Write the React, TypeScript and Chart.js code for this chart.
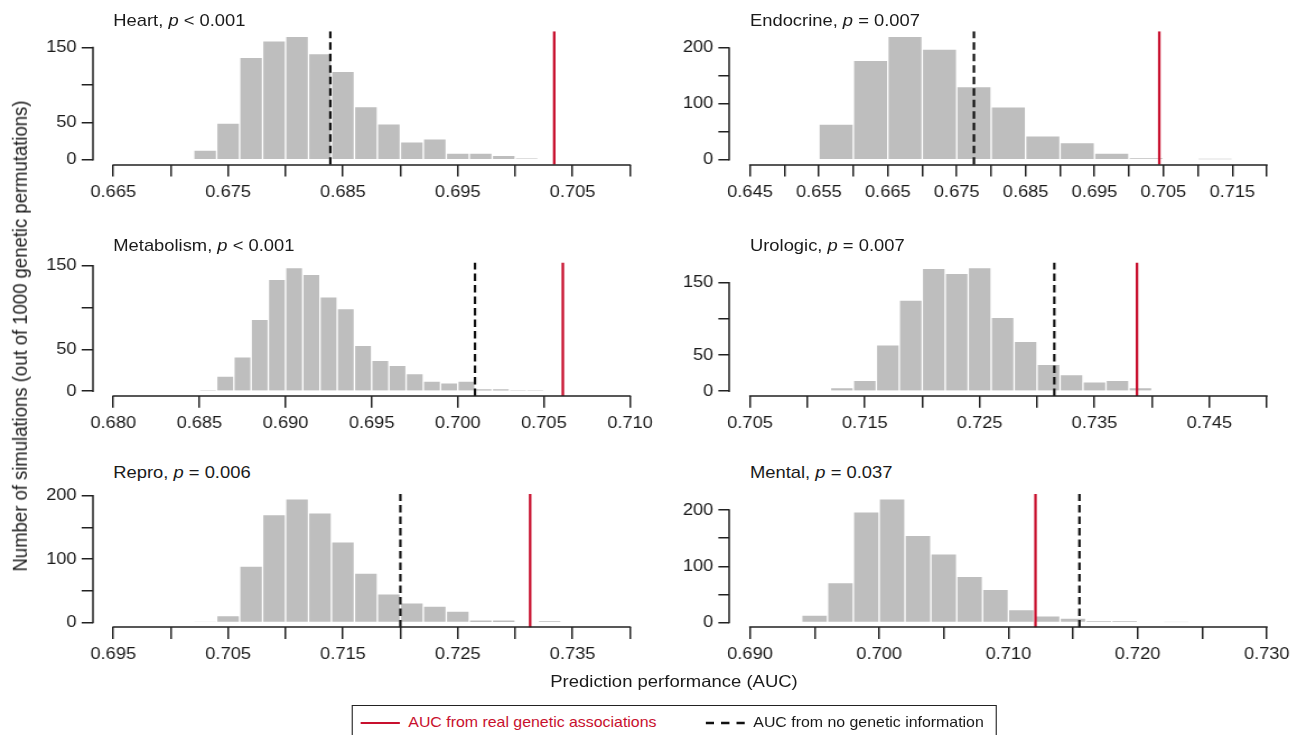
import React, { useEffect, useRef } from 'react';
import { Chart, registerables } from 'chart.js';

Chart.register(...registerables);

// ---------------- data ----------------
const panelNames = ['Heart', 'Endocrine', 'Metabolism', 'Urologic', 'Repro', 'Mental'];
const panelPText = ['< 0.001', '= 0.007', '< 0.001', '= 0.007', '= 0.006', '= 0.037'];

const heartBins = [0.672, 0.674, 0.676, 0.678, 0.680, 0.682, 0.684, 0.686, 0.688, 0.690, 0.692, 0.694, 0.696, 0.698, 0.700];
const heartCounts = [13, 49, 137, 159, 165, 142, 118, 71, 48, 24, 28, 9, 9, 6, 2];
const heartBinWidth = 0.002;
const heartReal = 0.7034;
const heartNull = 0.6839;
const heartXTicks = [0.665, 0.670, 0.675, 0.680, 0.685, 0.690, 0.695, 0.700, 0.705, 0.710];
const heartXLabels = ['0.665', '', '0.675', '', '0.685', '', '0.695', '', '0.705', ''];

const endoBins = [0.655, 0.660, 0.665, 0.670, 0.675, 0.680, 0.685, 0.690, 0.695, 0.700, 0.705, 0.710];
const endoCounts = [64, 178, 221, 198, 131, 95, 43, 31, 12, 3, 0, 2];
const endoBinWidth = 0.005;
const endoReal = 0.7044;
const endoNull = 0.6775;
const endoXTicks = [0.645, 0.650, 0.655, 0.660, 0.665, 0.670, 0.675, 0.680, 0.685, 0.690, 0.695, 0.700, 0.705, 0.710, 0.715, 0.720];
const endoXLabels = ['0.645', '', '0.655', '', '0.665', '', '0.675', '', '0.685', '', '0.695', '', '0.705', '', '0.715', ''];

const metaBins = [0.685, 0.686, 0.687, 0.688, 0.689, 0.690, 0.691, 0.692, 0.693, 0.694, 0.695, 0.696, 0.697, 0.698, 0.699, 0.700, 0.701, 0.702, 0.703, 0.704];
const metaCounts = [1, 18, 41, 86, 134, 148, 140, 113, 99, 55, 37, 31, 21, 12, 10, 12, 3, 3, 1, 1];
const metaBinWidth = 0.001;
const metaReal = 0.7061;
const metaNull = 0.7010;
const metaXTicks = [0.680, 0.685, 0.690, 0.695, 0.700, 0.705, 0.710];
const metaXLabels = ['0.680', '0.685', '0.690', '0.695', '0.700', '0.705', '0.710'];

const uroBins = [0.712, 0.714, 0.716, 0.718, 0.720, 0.722, 0.724, 0.726, 0.728, 0.730, 0.732, 0.734, 0.736, 0.738];
const uroCounts = [5, 15, 64, 126, 170, 163, 171, 102, 69, 37, 23, 13, 15, 5];
const uroBinWidth = 0.002;
const uroReal = 0.7387;
const uroNull = 0.7315;
const uroXTicks = [0.705, 0.710, 0.715, 0.720, 0.725, 0.730, 0.735, 0.740, 0.745, 0.750];
const uroXLabels = ['0.705', '', '0.715', '', '0.725', '', '0.735', '', '0.745', ''];

const reproBins = [0.702, 0.704, 0.706, 0.708, 0.710, 0.712, 0.714, 0.716, 0.718, 0.720, 0.722, 0.724, 0.726, 0.728, 0.730, 0.732];
const reproCounts = [1, 11, 89, 170, 195, 173, 127, 78, 45, 31, 26, 18, 4, 4, 0, 2];
const reproBinWidth = 0.002;
const reproReal = 0.7313;
const reproNull = 0.7200;
const reproXTicks = [0.695, 0.700, 0.705, 0.710, 0.715, 0.720, 0.725, 0.730, 0.735, 0.740];
const reproXLabels = ['0.695', '', '0.705', '', '0.715', '', '0.725', '', '0.735', ''];

const mentalBins = [0.694, 0.696, 0.698, 0.700, 0.702, 0.704, 0.706, 0.708, 0.710, 0.712, 0.714, 0.716, 0.718, 0.720, 0.722];
const mentalCounts = [13, 71, 197, 220, 155, 122, 82, 59, 23, 12, 8, 2, 2, 0, 1];
const mentalBinWidth = 0.002;
const mentalReal = 0.7121;
const mentalNull = 0.7155;
const mentalXTicks = [0.690, 0.695, 0.700, 0.705, 0.710, 0.715, 0.720, 0.725, 0.730];
const mentalXLabels = ['0.690', '', '0.700', '', '0.710', '', '0.720', '', '0.730'];

const yTicks150 = [0, 50, 100, 150];
const yLabels150 = ['0', '50', '', '150'];
const yTicks200 = [0, 50, 100, 150, 200];
const yLabels200 = ['0', '', '100', '', '200'];

const yAxisTitle = 'Number of simulations (out of 1000 genetic permutations)';
const xAxisTitle = 'Prediction performance (AUC)';
const legendReal = 'AUC from real genetic associations';
const legendNull = 'AUC from no genetic information';

// ---------------- styles / layout ----------------
const S = 1.12; // horizontal stretch of the reference figure
const FONT = '"Liberation Sans", Arial, Helvetica, sans-serif';
const RED = '#c8102e';
const TEXT = '#1a1a1a';
const AXIS = '#222222';
const BAR = '#bebebe';
const CANVAS_H = 200;
const TICK_FONT = 16.3;
const TITLE_FONT = 16.4;

const COLS = [
  { canvasLeft: 0, canvasWidth: 600, plotLeft: 92.63 / S, plotRight: 650.67 / S, titleLeft: 113.3 / S },
  { canvasLeft: 600, canvasWidth: 561, plotLeft: 729.33 / S, plotRight: 1287.4 / S, titleLeft: 750 / S },
];
const ROWS = [
  { plotTop: 31.3, plotBottom: 164.8, titleBaseline: 26 },
  { plotTop: 262.6, plotBottom: 396.1, titleBaseline: 251 },
  { plotTop: 493.9, plotBottom: 627.4, titleBaseline: 478 },
];

type Spec = {
  name: string; pText: string;
  bins: number[]; counts: number[]; binWidth: number;
  real: number; nul: number;
  xTicks: number[]; xLabels: string[];
  yTicks: number[]; yLabels: string[];
  col: number; row: number;
};

const SPECS: Spec[] = [
  { name: panelNames[0], pText: panelPText[0], bins: heartBins, counts: heartCounts, binWidth: heartBinWidth, real: heartReal, nul: heartNull, xTicks: heartXTicks, xLabels: heartXLabels, yTicks: yTicks150, yLabels: yLabels150, col: 0, row: 0 },
  { name: panelNames[1], pText: panelPText[1], bins: endoBins, counts: endoCounts, binWidth: endoBinWidth, real: endoReal, nul: endoNull, xTicks: endoXTicks, xLabels: endoXLabels, yTicks: yTicks200, yLabels: yLabels200, col: 1, row: 0 },
  { name: panelNames[2], pText: panelPText[2], bins: metaBins, counts: metaCounts, binWidth: metaBinWidth, real: metaReal, nul: metaNull, xTicks: metaXTicks, xLabels: metaXLabels, yTicks: yTicks150, yLabels: yLabels150, col: 0, row: 1 },
  { name: panelNames[3], pText: panelPText[3], bins: uroBins, counts: uroCounts, binWidth: uroBinWidth, real: uroReal, nul: uroNull, xTicks: uroXTicks, xLabels: uroXLabels, yTicks: yTicks150, yLabels: yLabels150, col: 1, row: 1 },
  { name: panelNames[4], pText: panelPText[4], bins: reproBins, counts: reproCounts, binWidth: reproBinWidth, real: reproReal, nul: reproNull, xTicks: reproXTicks, xLabels: reproXLabels, yTicks: yTicks200, yLabels: yLabels200, col: 0, row: 2 },
  { name: panelNames[5], pText: panelPText[5], bins: mentalBins, counts: mentalCounts, binWidth: mentalBinWidth, real: mentalReal, nul: mentalNull, xTicks: mentalXTicks, xLabels: mentalXLabels, yTicks: yTicks200, yLabels: yLabels200, col: 1, row: 2 },
];

// R-style detached axis lines, spanning only first..last tick
const rAxesPlugin = {
  id: 'rAxes',
  afterDraw(chart: any) {
    const { ctx, chartArea } = chart;
    const x = chart.scales.x;
    const y = chart.scales.y;
    const xt = x.ticks;
    const yt = y.ticks;
    const bottom = Math.round(chartArea.bottom);
    const left = Math.round(chartArea.left);
    ctx.save();
    ctx.strokeStyle = AXIS;
    ctx.lineWidth = 1.5;
    ctx.lineCap = 'square';
    ctx.beginPath();
    ctx.moveTo(x.getPixelForValue(xt[0].value), bottom);
    ctx.lineTo(x.getPixelForValue(xt[xt.length - 1].value), bottom);
    ctx.moveTo(left, y.getPixelForValue(yt[0].value));
    ctx.lineTo(left, y.getPixelForValue(yt[yt.length - 1].value));
    ctx.stroke();
    ctx.restore();
  },
};

function Panel({ spec }: { spec: Spec }) {
  const ref = useRef<HTMLCanvasElement>(null);
  const col = COLS[spec.col];
  const row = ROWS[spec.row];
  const canvasTop = Math.floor(row.plotTop) - 10;

  useEffect(() => {
    if (!ref.current) return;
    const padTop = row.plotTop - canvasTop;
    const plotH = row.plotBottom - row.plotTop;
    const xAxisH = CANVAS_H - padTop - plotH;
    const yAxisW = col.plotLeft - col.canvasLeft;
    const padRight = col.canvasLeft + col.canvasWidth - col.plotRight;
    const maxC = Math.max(...spec.counts);
    const yMin = -0.04 * maxC;
    const yMax = 1.04 * maxC;
    const x0 = spec.xTicks[0];
    const x1 = spec.xTicks[spec.xTicks.length - 1];
    const xPad = 0.04 * (x1 - x0);

    const chart = new Chart(ref.current, {
      type: 'bar',
      data: {
        datasets: [
          {
            type: 'line',
            data: [{ x: spec.real, y: yMin }, { x: spec.real, y: yMax }],
            borderColor: RED,
            borderWidth: 2.3,
            pointRadius: 0,
            fill: false,
            order: 0,
          } as any,
          {
            type: 'line',
            data: [{ x: spec.nul, y: yMin }, { x: spec.nul, y: yMax }],
            borderColor: '#111111',
            borderWidth: 2.2,
            borderDash: [7.5, 4],
            pointRadius: 0,
            fill: false,
            order: 0,
          } as any,
          {
            type: 'bar',
            data: spec.bins.map((b, i) => ({ x: b + spec.binWidth / 2, y: spec.counts[i] })),
            backgroundColor: BAR,
            borderColor: '#ffffff',
            borderWidth: 1,
            barPercentage: 1,
            categoryPercentage: 1,
            order: 1,
          } as any,
        ],
      },
      options: {
        responsive: false,
        animation: false,
        events: [],
        layout: { padding: { left: 0, right: padRight, top: padTop, bottom: 0 } },
        plugins: {
          legend: { display: false },
          tooltip: { enabled: false },
          title: { display: false },
        },
        scales: {
          x: {
            type: 'linear',
            position: 'bottom',
            min: x0 - xPad,
            max: x1 + xPad,
            bounds: 'data',
            offset: false,
            afterBuildTicks: (s: any) => {
              s.ticks = spec.xTicks.map((v) => ({ value: v }));
            },
            afterFit: (s: any) => {
              s.height = xAxisH;
              s.paddingLeft = 0;
              s.paddingRight = 0;
            },
            ticks: {
              autoSkip: false,
              maxRotation: 0,
              minRotation: 0,
              padding: 6,
              color: TEXT,
              font: { family: FONT, size: TICK_FONT },
              callback: (_v: any, i: number) => spec.xLabels[i],
            },
            grid: {
              display: true,
              offset: false,
              drawOnChartArea: false,
              drawTicks: true,
              tickLength: 11.7,
              color: AXIS,
              lineWidth: 1.5,
            },
            border: { display: false },
          },
          y: {
            type: 'linear',
            position: 'left',
            min: yMin,
            max: yMax,
            bounds: 'data',
            afterBuildTicks: (s: any) => {
              s.ticks = spec.yTicks.map((v) => ({ value: v }));
            },
            afterFit: (s: any) => {
              s.width = yAxisW;
              s.paddingTop = 0;
              s.paddingBottom = 0;
            },
            ticks: {
              autoSkip: false,
              padding: 4.5,
              color: TEXT,
              font: { family: FONT, size: TICK_FONT },
              callback: (_v: any, i: number) => spec.yLabels[i],
            },
            grid: {
              display: true,
              drawOnChartArea: false,
              drawTicks: true,
              tickLength: 9.8,
              color: AXIS,
              lineWidth: 1.5,
            },
            border: { display: false },
          },
        },
      } as any,
      plugins: [rAxesPlugin],
    });
    return () => chart.destroy();
  }, []);

  return (
    <canvas
      ref={ref}
      width={col.canvasWidth}
      height={CANVAS_H}
      style={{
        position: 'absolute',
        left: col.canvasLeft,
        top: canvasTop,
        width: col.canvasWidth,
        height: CANVAS_H,
      }}
    />
  );
}

function PanelTitle({ spec }: { spec: Spec }) {
  const col = COLS[spec.col];
  const row = ROWS[spec.row];
  return (
    <div
      style={{
        position: 'absolute',
        left: col.titleLeft,
        top: row.titleBaseline - 0.905 * TITLE_FONT,
        fontFamily: FONT,
        fontSize: TITLE_FONT,
        lineHeight: 'normal',
        color: TEXT,
        whiteSpace: 'nowrap',
      }}
    >
      {spec.name}, <i>p</i> {spec.pText}
    </div>
  );
}

export default function App() {
  const W = 1301 / S;
  return (
    <div
      style={{
        position: 'absolute',
        left: 0,
        top: 0,
        width: W,
        height: 735,
        overflow: 'hidden',
        background: '#ffffff',
        transform: `scaleX(${S})`,
        transformOrigin: '0 0',
      }}
    >
      {SPECS.map((s) => (
        <Panel key={s.name} spec={s} />
      ))}
      {SPECS.map((s) => (
        <PanelTitle key={s.name + 't'} spec={s} />
      ))}

      {/* y-axis title */}
      <div
        style={{
          position: 'absolute',
          left: 17.9,
          top: 336,
          transform: 'translate(-50%, -50%) rotate(-90deg)',
          fontFamily: FONT,
          fontSize: 18.5,
          lineHeight: 'normal',
          whiteSpace: 'nowrap',
          color: TEXT,
        }}
      >
        {yAxisTitle}
      </div>

      {/* x-axis title */}
      <div
        style={{
          position: 'absolute',
          left: 674 / S,
          top: 686.7 - 0.905 * 16.5,
          transform: 'translateX(-50%)',
          fontFamily: FONT,
          fontSize: 16.5,
          lineHeight: 'normal',
          whiteSpace: 'nowrap',
          color: TEXT,
        }}
      >
        {xAxisTitle}
      </div>

      {/* legend */}
      <div
        style={{
          position: 'absolute',
          left: 351.7 / S,
          top: 705,
          width: (996.7 - 351.7) / S,
          height: 40,
          border: '1.2px solid #222',
          boxSizing: 'border-box',
        }}
      />
      <div
        style={{
          position: 'absolute',
          left: 360.7 / S,
          top: 722.7 - 1.2,
          width: (399.3 - 360.7) / S,
          height: 2.4,
          background: RED,
        }}
      />
      <div
        style={{
          position: 'absolute',
          left: 408.3 / S,
          top: 727.3 - 0.905 * 14.2,
          fontFamily: FONT,
          fontSize: 14.2,
          lineHeight: 'normal',
          whiteSpace: 'nowrap',
          color: RED,
        }}
      >
        {legendReal}
      </div>
      <svg
        style={{ position: 'absolute', left: 705.7 / S, top: 720.7 }}
        width={(745 - 705.7) / S}
        height={4}
      >
        <line x1={0} y1={2} x2={(745 - 705.7) / S} y2={2} stroke="#111" strokeWidth={2.4} strokeDasharray="7.5 6.3" />
      </svg>
      <div
        style={{
          position: 'absolute',
          left: 753.3 / S,
          top: 727.3 - 0.905 * 14.2,
          fontFamily: FONT,
          fontSize: 14.2,
          lineHeight: 'normal',
          whiteSpace: 'nowrap',
          color: TEXT,
        }}
      >
        {legendNull}
      </div>
    </div>
  );
}
